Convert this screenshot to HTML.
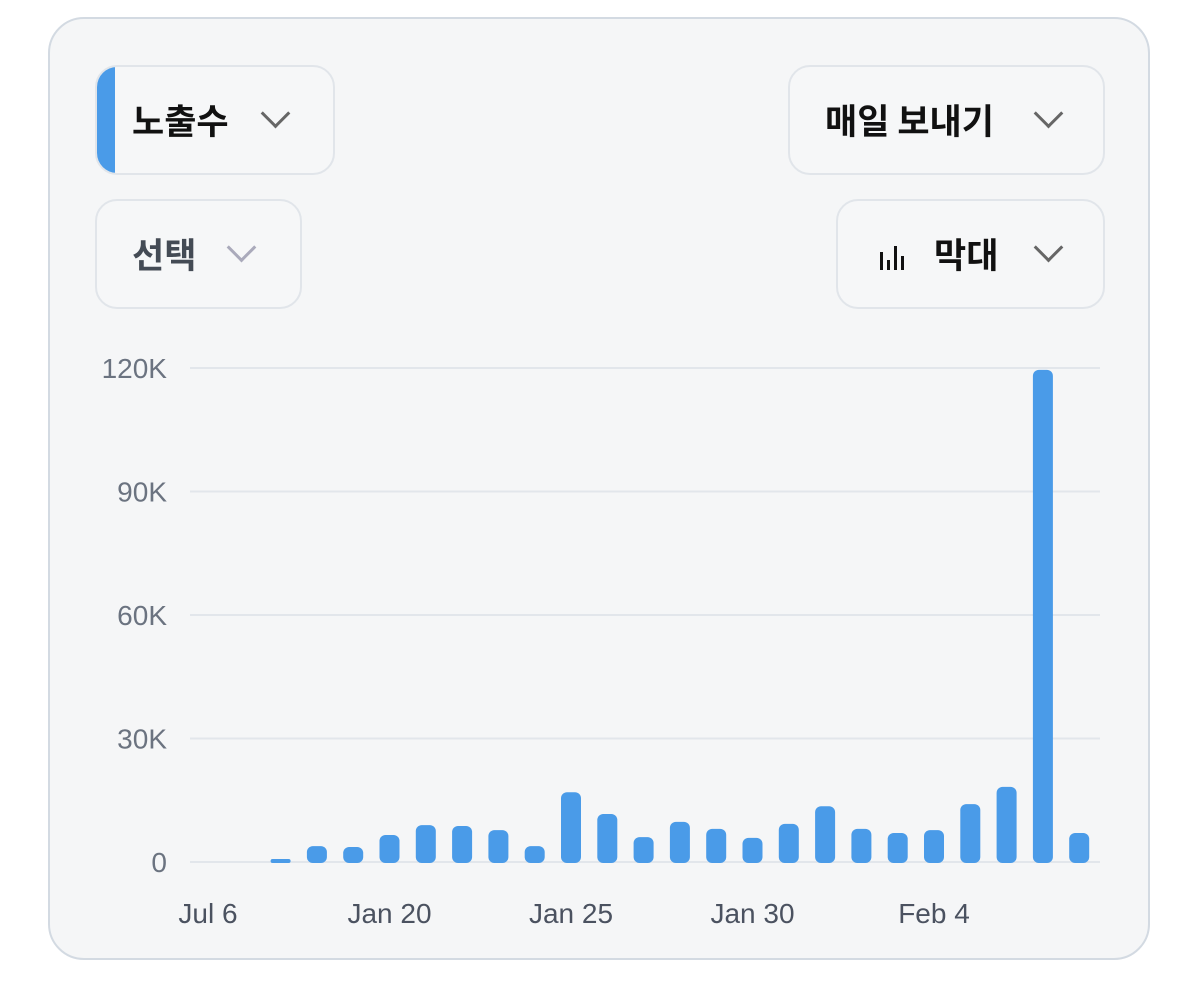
<!DOCTYPE html>
<html><head><meta charset="utf-8"><style>
body{margin:0;width:1200px;height:983px;background:#fff;font-family:"Liberation Sans","Noto Sans CJK KR",sans-serif;position:relative;overflow:hidden}
.card{position:absolute;left:48px;top:17px;width:1102px;height:943px;border:2px solid #d3dae2;border-radius:36px;background:#f5f6f7;box-sizing:border-box}
.btn{position:absolute;height:110px;border:2px solid #e1e5ea;border-radius:22px;box-sizing:border-box;background:#f6f7f8;display:flex;align-items:center;font-size:35px;font-weight:bold;color:#111;font-family:"Noto Sans CJK KR",sans-serif}
.chev{position:absolute;top:36px;width:18px;height:18px;border-right:3px solid #666;border-bottom:3px solid #666;transform:rotate(45deg)}
</style></head><body>
<div class="card"></div>
<div class="btn" style="left:95px;top:65px;width:240px;overflow:hidden">
 <div style="position:absolute;left:0;top:0;width:18px;height:110px;background:#4a9be8"></div>
 <span style="position:absolute;left:35px;top:27px">노출수</span><div class="chev" style="left:168px"></div></div>
<div class="btn" style="left:788px;top:65px;width:317px">
 <span style="position:absolute;left:35px;top:27px">매일 보내기</span><div class="chev" style="left:248px"></div></div>
<div class="btn" style="left:95px;top:199px;width:207px;color:#444b55">
 <span style="position:absolute;left:35px;top:27px">선택</span><div class="chev" style="left:134px;border-color:#aab"></div></div>
<div class="btn" style="left:836px;top:199px;width:269px">
 <svg style="position:absolute;left:42px;top:45px" width="26" height="24"><g fill="#111"><rect x="0" y="6" width="3" height="18"/><rect x="7" y="14" width="3" height="10"/><rect x="14" y="0" width="3" height="24"/><rect x="21" y="10" width="3" height="14"/></g></svg>
 <span style="position:absolute;left:96px;top:27px">막대</span><div class="chev" style="left:200px"></div></div>
<svg id="chart" width="1200" height="983" style="position:absolute;left:0;top:0"></svg>
<script>
const categories=["Jan 15","Jan 16","Jan 17","Jan 18","Jan 19","Jan 20","Jan 21","Jan 22","Jan 23","Jan 24","Jan 25","Jan 26","Jan 27","Jan 28","Jan 29","Jan 30","Jan 31","Feb 1","Feb 2","Feb 3","Feb 4","Feb 5","Feb 6","Feb 7","Feb 8"];
const values=[0,0,500,4100,3900,6800,9200,9000,8000,4100,17200,11900,6300,10000,8300,6100,9500,13800,8300,7300,8000,14300,18500,119800,7300];
const yTicks=[0,30000,60000,90000,120000];
const yTickLabels=["0","30K","60K","90K","120K"];
const xLabels=["Jul 6","Jan 20","Jan 25","Jan 30","Feb 4"];
const xLabelIdx=[0,5,10,15,20];
const svg=document.getElementById('chart');const NS="http://www.w3.org/2000/svg";
const y=v=>862-v*(494/120000);
const x=i=>208+i*36.3;
function mk(t,a){const e=document.createElementNS(NS,t);for(const k in a)e.setAttribute(k,a[k]);svg.appendChild(e);return e;}
yTicks.forEach((t,i)=>{
 const l=mk('line',{x1:190,x2:1100,y1:y(t),y2:y(t),stroke:'#e2e6eb','stroke-width':2});
 
 
 const tx=mk('text',{x:167,y:y(t)+10,'text-anchor':'end','font-size':28,fill:'#6b7380','font-family':'Liberation Sans, sans-serif'});
 tx.textContent=yTickLabels[i];
 
 
});
values.forEach((v,i)=>{
 if(v<=0)return;
 const h=Math.max(862-y(v),4);
 const r=mk('rect',{x:x(i)-10,y:863-h,width:20,height:h,rx:Math.min(6,h/2),fill:'#4a9be8'});
 
 
});
xLabels.forEach((s,i)=>{
 const tx=mk('text',{x:x(xLabelIdx[i]),y:923,'text-anchor':'middle','font-size':28,fill:'#4b5260','font-family':'Liberation Sans, sans-serif'});
 tx.textContent=s;
 
 
});
</script>
</body></html>
